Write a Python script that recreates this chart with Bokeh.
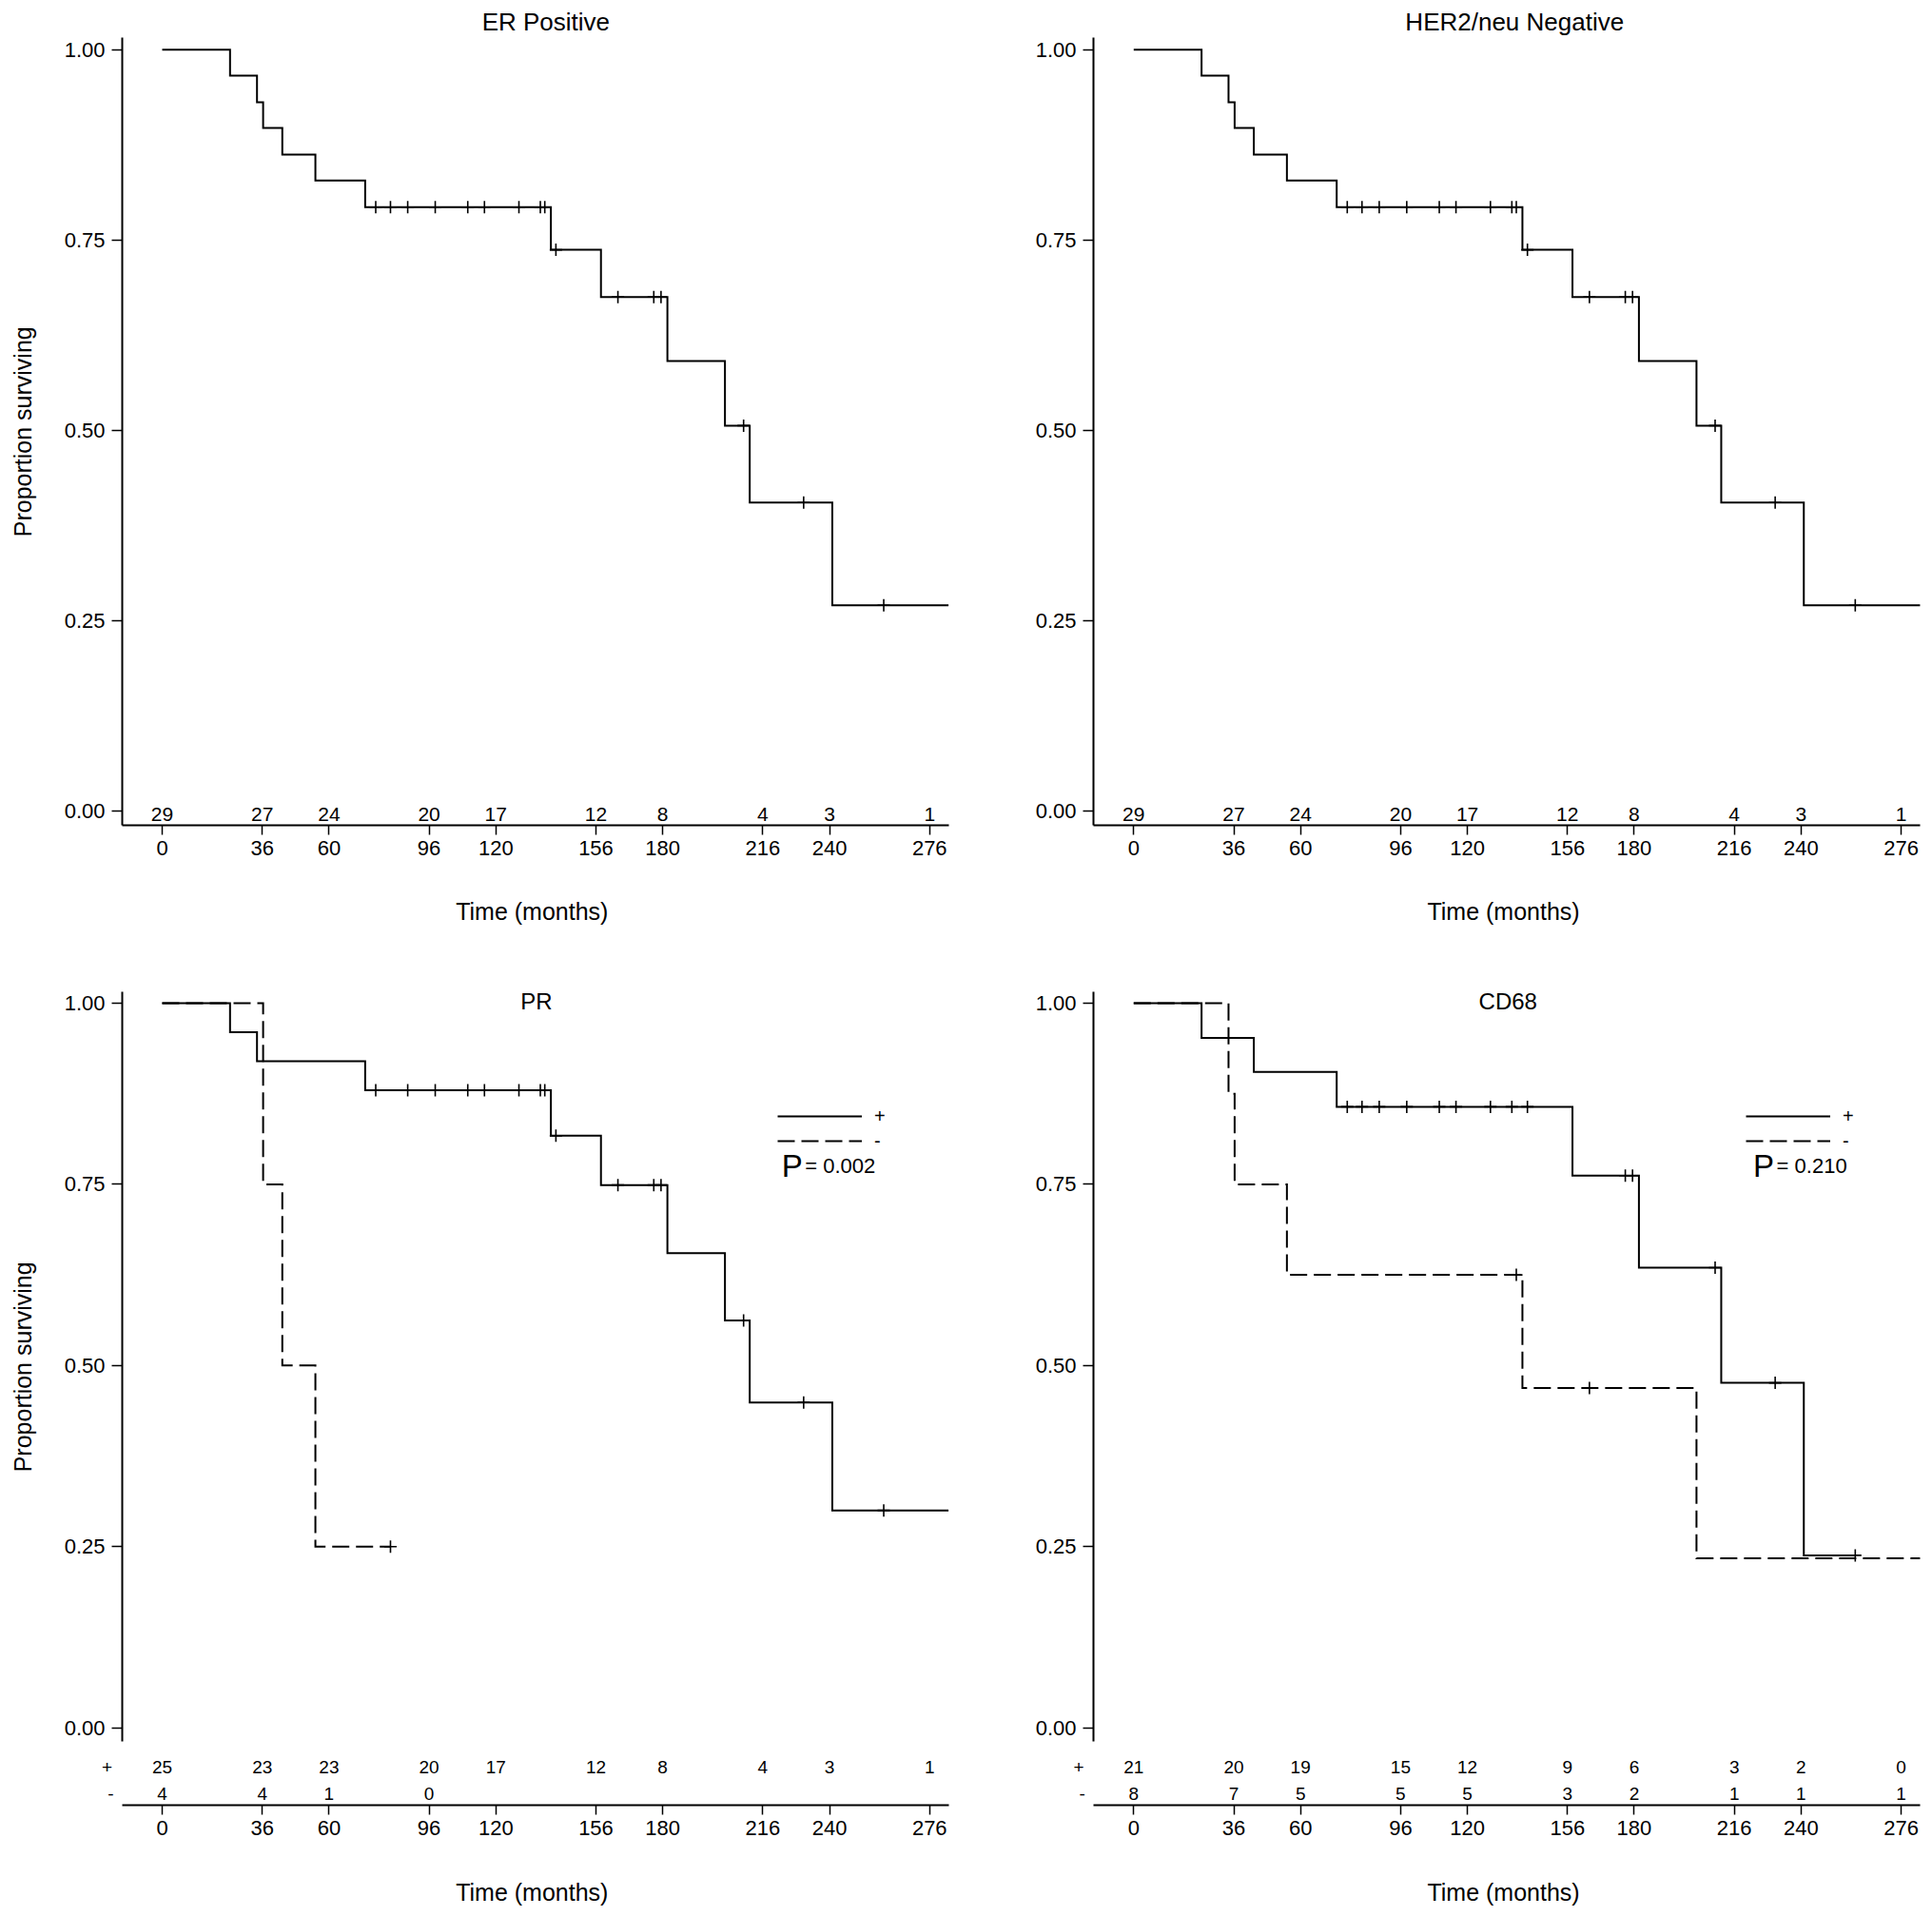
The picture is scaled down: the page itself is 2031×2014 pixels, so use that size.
import math
from bokeh.plotting import figure
from bokeh.layouts import gridplot
from bokeh.models import (Range1d, FixedTicker, PrintfTickFormatter, Label,
                          Legend, LegendItem)
from bokeh.embed import file_html
from bokeh.resources import INLINE
from bokeh.core.properties import value

FONT = "Liberation Sans"

# ---------------- data ----------------
tick_months = [0, 36, 60, 96, 120, 156, 180, 216, 240, 276]
y_ticks = [0.0, 0.25, 0.5, 0.75, 1.0]

# ER positive (all 29 patients)
er_t = [0, 24.4, 34.1, 36.3, 43.2, 55.1, 73.0, 139.8, 157.8, 181.7, 202.4, 211.3, 241.0, 282.8]
er_s = [1.000, 0.966, 0.931, 0.897, 0.862, 0.828, 0.793, 0.737, 0.675, 0.591, 0.506, 0.405, 0.270, 0.270]
er_cens_t = [76.8, 82.1, 88.3, 98.2, 109.9, 115.9, 128.3, 136.0, 137.6, 141.6, 163.9, 176.8, 179.4, 209.1, 230.7, 259.5]
er_cens_s = [0.793] * 9 + [0.737] + [0.675] * 3 + [0.506, 0.405, 0.270]
er_risk = [29, 27, 24, 20, 17, 12, 8, 4, 3, 1]

# HER2/neu negative (same patients)
her2_t = list(er_t)
her2_s = list(er_s)
her2_cens_t = list(er_cens_t)
her2_cens_s = list(er_cens_s)
her2_risk = list(er_risk)

# PR
pr_pos_t = [0, 24.4, 34.1, 73.0, 139.8, 157.8, 181.7, 202.4, 211.3, 241.0, 282.8]
pr_pos_s = [1.000, 0.960, 0.920, 0.880, 0.817, 0.749, 0.655, 0.562, 0.449, 0.300, 0.300]
pr_pos_cens_t = [76.8, 88.3, 98.2, 109.9, 115.9, 128.3, 136.0, 137.6, 141.6, 163.9, 176.8, 179.4, 209.1, 230.7, 259.5]
pr_pos_cens_s = [0.880] * 8 + [0.817] + [0.749] * 3 + [0.562, 0.449, 0.300]
pr_neg_t = [0, 36.3, 43.2, 55.1, 82.1]
pr_neg_s = [1.00, 0.75, 0.50, 0.25, 0.25]
pr_neg_cens_t = [82.1]
pr_neg_cens_s = [0.25]
pr_risk_pos = [25, 23, 23, 20, 17, 12, 8, 4, 3, 1]
pr_risk_neg_months = [0, 36, 60, 96]
pr_risk_neg = [4, 4, 1, 0]
pr_p = "= 0.002"

# CD68
cd_pos_t = [0, 24.4, 43.2, 73.0, 157.8, 181.7, 211.3, 241.0, 259.5]
cd_pos_s = [1.000, 0.952, 0.905, 0.857, 0.762, 0.635, 0.476, 0.238, 0.238]
cd_pos_cens_t = [76.8, 82.1, 88.3, 98.2, 109.9, 115.9, 128.3, 136.0, 141.6, 176.8, 179.4, 209.1, 230.7, 259.5]
cd_pos_cens_s = [0.857] * 9 + [0.762] * 2 + [0.635, 0.476, 0.238]
cd_neg_t = [0, 34.1, 36.3, 55.1, 139.8, 202.4, 282.8]
cd_neg_s = [1.000, 0.875, 0.750, 0.625, 0.469, 0.234, 0.234]
cd_neg_cens_t = [137.6, 163.9]
cd_neg_cens_s = [0.625, 0.469]
cd_risk_pos = [21, 20, 19, 15, 12, 9, 6, 3, 2, 0]
cd_risk_neg = [8, 7, 5, 5, 5, 3, 2, 1, 1, 1]
cd_p = "= 0.210"

# ---------------- layout geometry (pixels) ----------------
DASH = "18 7"
PX_PER_MONTH = 2.923
W_L, W_R = 1020, 1011
H_T, H_B = 1005, 1009
X_END = 282.9          # right end of the drawn x axis line
Y_AX = (-0.019, 1.0155)  # extent of the drawn y axis line


def make_fig(width, height, zero_px, yaxis_px, y_top, px_per_unit, xaxis_val):
    # the frame covers the whole figure; axes are drawn at fixed locations
    x0 = -zero_px / PX_PER_MONTH
    x1 = (width - zero_px) / PX_PER_MONTH
    y1 = y_top
    y0 = y_top - height / px_per_unit
    yaxis_x = (yaxis_px - zero_px) / PX_PER_MONTH
    p = figure(width=width, height=height, title=None,
               x_range=Range1d(x0, x1), y_range=Range1d(y0, y1),
               output_backend="svg", toolbar_location=None, min_border=0)
    p.grid.visible = False
    p.outline_line_color = None
    p.background_fill_color = "white"
    xa = p.xaxis[0]
    xa.fixed_location = xaxis_val
    xa.ticker = FixedTicker(ticks=tick_months)
    xa.bounds = (yaxis_x, X_END)
    xa.minor_tick_line_color = None
    xa.major_tick_in = 0
    xa.major_tick_out = 10
    xa.major_tick_line_width = 1.5
    xa.major_tick_line_color = "black"
    xa.axis_line_width = 2
    xa.axis_line_color = "black"
    xa.major_label_text_font = FONT
    xa.major_label_text_font_size = "22px"
    xa.major_label_text_color = "black"
    xa.major_label_standoff = 7
    ya = p.yaxis[0]
    ya.fixed_location = yaxis_x
    ya.ticker = FixedTicker(ticks=y_ticks)
    ya.formatter = PrintfTickFormatter(format="%.2f")
    ya.minor_tick_line_color = None
    ya.major_tick_in = 0
    ya.major_tick_out = 11
    ya.major_tick_line_width = 1.5
    ya.major_tick_line_color = "black"
    ya.axis_line_width = 2
    ya.axis_line_color = "black"
    ya.bounds = Y_AX
    ya.major_label_text_font = FONT
    ya.major_label_text_font_size = "22px"
    ya.major_label_text_color = "black"
    ya.major_label_standoff = 7
    return p


def text_label(p, x, y, text, size, align="center", baseline="middle", angle=0.0):
    p.add_layout(Label(x=x, y=y, text=text, text_align=align,
                       text_baseline=baseline, text_font=FONT,
                       text_font_size=size, text_color="black", angle=angle))


def axis_titles(p, xlab_y, ylab):
    text_label(p, 133.0, xlab_y, "Time (months)", "25px")
    if ylab:
        text_label(p, -50.1, 0.498, "Proportion surviving", "25px",
                   angle=math.pi / 2)


def curve(p, t, s, ct, cs, dash):
    r = p.step(t, s, mode="after", line_color="black", line_width=2,
               line_dash=dash, line_join="miter")
    p.scatter(ct, cs, marker="cross", size=13, line_width=1.6, color="black")
    return r


def risk_row(p, months, counts, y, size):
    p.text(x=months, y=[y] * len(months), text=[str(c) for c in counts],
           text_align="center", text_baseline="middle",
           text_font=value(FONT), text_font_size=size, text_color="black")


def legend_and_p(p, r1, r2, pstr, loc):
    lg = Legend(items=[LegendItem(label="+", renderers=[r1]),
                       LegendItem(label="-", renderers=[r2])],
                location=loc, glyph_width=89, glyph_height=26,
                label_height=26, spacing=0, padding=0, margin=0,
                border_line_color=None, background_fill_alpha=0,
                label_standoff=13, label_text_font=FONT,
                label_text_font_size="20px", label_text_color="black")
    p.add_layout(lg)
    text_label(p, 222.8, 0.776, "P", "33px", align="left", baseline="alphabetic")
    text_label(p, 231.2, 0.776, pstr, "22px", align="left", baseline="alphabetic")


def row_labels(p):
    text_label(p, -19.8, -0.0549, "+", "19px")
    text_label(p, -18.5, -0.091, "-", "19px")


TOP_YTOP, TOP_PPU = 1.0646, 800.0
BOT_YTOP, BOT_PPU = 1.0643, 761.7

# ---------------- ER positive ----------------
p1 = make_fig(W_L, H_T, 170, 128, TOP_YTOP, TOP_PPU, -0.019)
curve(p1, er_t, er_s, er_cens_t, er_cens_s, "solid")
risk_row(p1, tick_months, er_risk, -0.005, "21px")
text_label(p1, 138, 1.0359, "ER Positive", "26px", baseline="alphabetic")
axis_titles(p1, -0.1323, True)

# ---------------- HER2/neu negative ----------------
p2 = make_fig(W_R, H_T, 1191.3 - W_L, 1149 - W_L, TOP_YTOP, TOP_PPU, -0.019)
curve(p2, her2_t, her2_s, her2_cens_t, her2_cens_s, "solid")
risk_row(p2, tick_months, her2_risk, -0.005, "21px")
text_label(p2, 137, 1.0359, "HER2/neu Negative", "26px", baseline="alphabetic")
axis_titles(p2, -0.1323, False)

# ---------------- PR ----------------
p3 = make_fig(W_L, H_B, 170, 128, BOT_YTOP, BOT_PPU, -0.1067)
ra = curve(p3, pr_pos_t, pr_pos_s, pr_pos_cens_t, pr_pos_cens_s, "solid")
rb = curve(p3, pr_neg_t, pr_neg_s, pr_neg_cens_t, pr_neg_cens_s, DASH)
risk_row(p3, tick_months, pr_risk_pos, -0.0549, "19px")
risk_row(p3, pr_risk_neg_months, pr_risk_neg, -0.091, "19px")
row_labels(p3)
text_label(p3, 134.6, 1.0028, "PR", "24px", baseline="alphabetic")
legend_and_p(p3, ra, rb, pr_p, (817, 802))
axis_titles(p3, -0.2275, True)

# ---------------- CD68 ----------------
p4 = make_fig(W_R, H_B, 1191.3 - W_L, 1149 - W_L, BOT_YTOP, BOT_PPU, -0.1067)
rc = curve(p4, cd_pos_t, cd_pos_s, cd_pos_cens_t, cd_pos_cens_s, "solid")
rd = curve(p4, cd_neg_t, cd_neg_s, cd_neg_cens_t, cd_neg_cens_s, DASH)
risk_row(p4, tick_months, cd_risk_pos, -0.0549, "19px")
risk_row(p4, tick_months, cd_risk_neg, -0.091, "19px")
row_labels(p4)
text_label(p4, 134.6, 1.0028, "CD68", "24px", baseline="alphabetic")
legend_and_p(p4, rc, rd, cd_p, (815, 802))
axis_titles(p4, -0.2275, False)

grid = gridplot([[p1, p2], [p3, p4]], toolbar_location=None)
open("out.html", "w").write(file_html(grid, INLINE))
